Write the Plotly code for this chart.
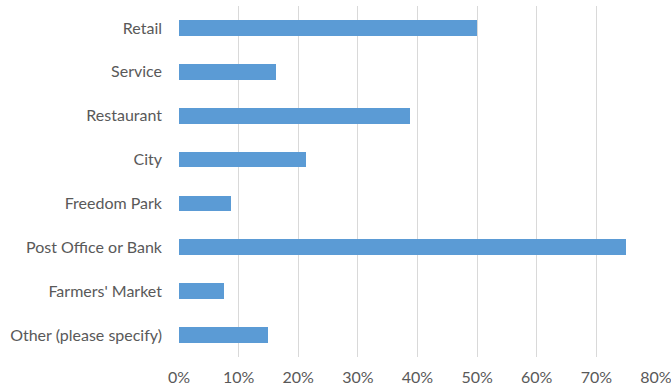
import plotly.graph_objects as go

# Share of respondents by location
categories = [
    "Retail",
    "Service",
    "Restaurant",
    "City",
    "Freedom Park",
    "Post Office or Bank",
    "Farmers' Market",
    "Other (please specify)",
]
shares = [0.50, 0.162, 0.387, 0.213, 0.088, 0.75, 0.075, 0.15]
x_ticks = [0, 0.1, 0.2, 0.3, 0.4, 0.5, 0.6, 0.7, 0.8]
x_tick_labels = ["0%", "10%", "20%", "30%", "40%", "50%", "60%", "70%", "80%"]

fig = go.Figure(
    go.Bar(
        x=shares,
        y=categories,
        orientation="h",
        width=0.36,
        marker=dict(color="#5b9bd5", line=dict(width=0)),
    )
)

fig.update_layout(
    width=671,
    height=390,
    margin=dict(l=179, r=15, t=6, b=33),
    paper_bgcolor="white",
    plot_bgcolor="white",
    font=dict(family="Lato, Open Sans, sans-serif", size=16, color="#595959"),
    showlegend=False,
    bargap=0,
)

fig.update_xaxes(
    range=[0, 0.8],
    tickvals=x_ticks,
    ticktext=x_tick_labels,
    showgrid=True,
    gridcolor="#d9d9d9",
    gridwidth=1,
    zeroline=False,
    showline=False,
    ticks="",
    ticklabelstandoff=9,
    ticklabeloverflow="allow",
    automargin=False,
)

fig.update_yaxes(
    autorange="reversed",
    showgrid=False,
    zeroline=False,
    showline=False,
    ticks="",
    ticklabelstandoff=16,
    automargin=False,
)

fig.write_html("out.html")
